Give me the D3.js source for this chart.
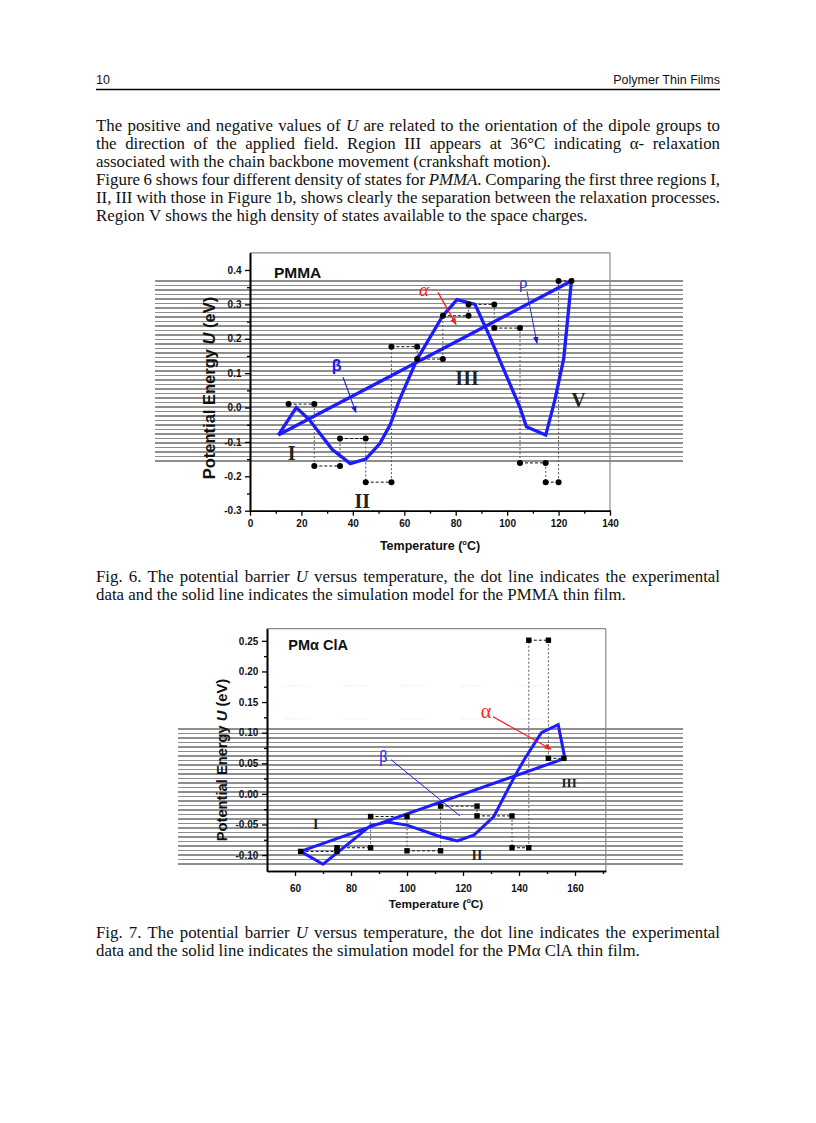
<!DOCTYPE html>
<html><head><meta charset="utf-8">
<script src="https://cdn.jsdelivr.net/npm/d3@7"></script>
<style>
html,body{margin:0;padding:0;background:#fff;}
svg{display:block;}
</style></head>
<body>
<svg id="page" width="816" height="1123"></svg>
<script>
// ---------------- text content ----------------
const headerLeft = "10";
const headerRight = "Polymer Thin Films";
const bodyLines = [
  "The positive and negative values of *U* are related to the orientation of the dipole groups to",
  "the direction of the applied field. Region III appears at 36°C indicating α- relaxation",
  "associated with the chain backbone movement (crankshaft motion).",
  "Figure 6 shows four different density of states for *PMMA*. Comparing the first three regions I,",
  "II, III with those in Figure 1b, shows clearly the separation between the relaxation processes.",
  "Region V shows the high density of states available to the space charges."
];
const bodyJustify = [true, true, false, true, true, false];
const caption6 = [
  "Fig. 6. The potential barrier *U* versus temperature, the dot line indicates the experimental",
  "data and the solid line indicates the simulation model for the PMMA thin film."
];
const caption7 = [
  "Fig. 7. The potential barrier *U* versus temperature, the dot line indicates the experimental",
  "data and the solid line indicates the simulation model for the PMα ClA thin film."
];

// ---------------- Fig. 6 data (PMMA) ----------------
const xTicks1 = [0, 20, 40, 60, 80, 100, 120, 140];
const xMinor1 = [10, 30, 50, 70, 90, 110, 130];
const yTicks1 = [-0.3, -0.2, -0.1, 0.0, 0.1, 0.2, 0.3, 0.4];
const yMinor1 = [-0.25, -0.15, -0.05, 0.05, 0.15, 0.25, 0.35];
const expT1 = [15, 25, 25, 35, 35, 45, 45, 55, 55, 65, 65, 75, 75, 85, 85, 95, 95, 105, 105, 115, 115, 120, 120, 125];
const expU1 = [0.01, 0.01, -0.17, -0.17, -0.09, -0.09, -0.217, -0.217, 0.177, 0.177, 0.141, 0.141, 0.267, 0.267, 0.30, 0.30, 0.231, 0.231, -0.161, -0.161, -0.217, -0.217, 0.368, 0.368];
const simT1 = [11, 18, 23, 32, 39, 45, 50.5, 54.5, 58, 65, 75, 80.5, 87.5, 93, 105, 107.5, 115, 118.5, 122, 125, 11];
const simU1 = [-0.08, 0.0, -0.035, -0.122, -0.163, -0.15, -0.105, -0.05, 0.02, 0.141, 0.267, 0.314, 0.30, 0.21, 0.0, -0.056, -0.08, 0.02, 0.142, 0.368, -0.08];

// ---------------- Fig. 7 data (PMαClA) ----------------
const xTicks2 = [60, 80, 100, 120, 140, 160];
const xMinor2 = [70, 90, 110, 130, 150, 170];
const yTicks2 = [-0.10, -0.05, 0.00, 0.05, 0.10, 0.15, 0.20, 0.25];
const yMinor2 = [-0.075, -0.025, 0.025, 0.075, 0.125, 0.175, 0.225];
const expT2 = [62, 75, 75, 87, 87, 100, 100, 112, 112, 125, 125, 137.5, 137.5, 143.5, 143.5, 150.5, 150.5, 156];
const expU2 = [-0.094, -0.094, -0.088, -0.088, -0.037, -0.037, -0.093, -0.093, -0.02, -0.02, -0.036, -0.036, -0.088, -0.088, 0.251, 0.251, 0.058, 0.058];
const simT2 = [62, 70, 80, 87, 93, 100, 112, 118, 124, 131, 138.5, 142, 148, 154, 156.4, 62];
const simU2 = [-0.094, -0.115, -0.078, -0.052, -0.046, -0.051, -0.07, -0.077, -0.067, -0.037, 0.029, 0.057, 0.1, 0.113, 0.058, -0.094];

// ---------------- page ----------------
const svg = d3.select("#page");
svg.append("rect").attr("width", 816).attr("height", 1123).attr("fill", "#fff");
const SERIF = "'Liberation Serif','Times New Roman',serif";
const SANS = "'Liberation Sans',Arial,Helvetica,sans-serif";

// header
svg.append("text").attr("x", 96).attr("y", 84).attr("font-family", SANS).attr("font-size", 12.5).attr("fill", "#111").text(headerLeft);
svg.append("text").attr("x", 720).attr("y", 84).attr("text-anchor", "end").attr("font-family", SANS).attr("font-size", 12.5).attr("fill", "#111").text(headerRight);
svg.append("line").attr("x1", 96).attr("x2", 720).attr("y1", 89.5).attr("y2", 89.5).attr("stroke", "#000").attr("stroke-width", 1.3);

// text layout helper
const measureG = svg.append("g").attr("opacity", 0);
function natWidth(str, fs) {
  const t = measureG.append("text").attr("font-family", SERIF).attr("font-size", fs).style("white-space", "pre");
  str.split("*").forEach((p, i) => { if (p) t.append("tspan").attr("font-style", i % 2 ? "italic" : "normal").text(p); });
  const w = t.node().getComputedTextLength();
  t.remove();
  return w;
}
const FS = 10 * 455 / natWidth(bodyLines[2].replace(/\*/g, ""), 10);
const SPACE = natWidth("a a", FS) - natWidth("aa", FS);

function layoutLine(str, x0, y, width, justify) {
  const words = str.split(" ");
  const g = svg.append("g");
  const nodes = words.map(w => {
    const t = g.append("text").attr("y", y).attr("font-family", SERIF).attr("font-size", FS).attr("fill", "#111");
    w.split("*").forEach((p, i) => { if (p) t.append("tspan").attr("font-style", i % 2 ? "italic" : "normal").text(p); });
    return t;
  });
  const widths = nodes.map(n => n.node().getComputedTextLength());
  const total = d3.sum(widths);
  const sp = justify ? (width - total) / (words.length - 1) : SPACE;
  let x = x0;
  nodes.forEach((n, i) => { n.attr("x", x); x += widths[i] + sp; });
}
bodyLines.forEach((l, i) => layoutLine(l, 96, 131 + i * 18, 624, bodyJustify[i]));
caption6.forEach((l, i) => layoutLine(l, 96, 582 + i * 17.5, 624, i === 0));
caption7.forEach((l, i) => layoutLine(l, 96, 938 + i * 17.5, 624, i === 0));

// arrow markers
const defs = svg.append("defs");
[["arRed", "#ff1a1a"], ["arBlue", "#1a1aee"]].forEach(([id, c]) => {
  defs.append("marker").attr("id", id).attr("viewBox", "0 0 10 10").attr("refX", 9).attr("refY", 5)
    .attr("markerWidth", 7).attr("markerHeight", 7).attr("markerUnits", "userSpaceOnUse").attr("orient", "auto")
    .append("path").attr("d", "M0,1 L10,5 L0,9 Z").attr("fill", c);
});

function drawChart(cfg) {
  const g = svg.append("g");
  const x = d3.scaleLinear().domain(cfg.xDomain).range(cfg.xRange);
  const y = d3.scaleLinear().domain(cfg.yDomain).range(cfg.yRange);
  const [x0, x1] = cfg.xRange, [yb, yt] = cfg.yRange;

  // scan stripes (decoration)
  const stripes = d3.range(cfg.stripeY[0], cfg.stripeY[1], 4.5);
  g.append("g").selectAll("line").data(stripes).join("line")
    .attr("x1", cfg.stripeX[0]).attr("x2", cfg.stripeX[1])
    .attr("y1", d => d).attr("y2", d => d)
    .attr("stroke", (d, i) => i % 2 ? "#8c8c8c" : "#1e1e1e").attr("stroke-width", 1);

  // faint ghost lines
  (cfg.ghost || []).forEach(gy => {
    g.append("line").attr("x1", x0 + 18).attr("x2", x1 - 40).attr("y1", gy).attr("y2", gy)
      .attr("stroke", "#d9ecdc").attr("stroke-width", 1).attr("stroke-dasharray", "1,1.5,1,1.5,1,1.5,1,1.5,1,1.5,1,1.5,1,1.5,1,1.5,1,1.5,1,35");
  });

  // frame
  g.append("line").attr("x1", x0).attr("x2", x1).attr("y1", yt).attr("y2", yt).attr("stroke", "#8a8a8a").attr("stroke-width", 1.2);
  g.append("line").attr("x1", x1).attr("x2", x1).attr("y1", yt).attr("y2", yb).attr("stroke", "#8a8a8a").attr("stroke-width", 1.2);

  // axes
  const fmt = d => d.toFixed(cfg.yDec);
  const ya = g.append("g").attr("transform", `translate(${x0},0)`)
    .call(d3.axisLeft(y).tickValues(cfg.yTicks).tickSize(5).tickPadding(cfg.yPad).tickSizeOuter(0).tickFormat(fmt));
  const yam = g.append("g").attr("transform", `translate(${x0},0)`)
    .call(d3.axisLeft(y).tickValues(cfg.yMinor).tickSize(3).tickSizeOuter(0).tickFormat(""));
  const xa = g.append("g").attr("transform", `translate(0,${yb})`)
    .call(d3.axisBottom(x).tickValues(cfg.xTicks).tickSize(5).tickPadding(cfg.xPad).tickSizeOuter(0).tickFormat(d3.format("d")));
  const xam = g.append("g").attr("transform", `translate(0,${yb})`)
    .call(d3.axisBottom(x).tickValues(cfg.xMinor).tickSize(3).tickSizeOuter(0).tickFormat(""));
  [ya, yam, xa, xam].forEach(a => {
    a.select(".domain").attr("stroke", "#000").attr("stroke-width", 1.6);
    a.selectAll(".tick line").attr("stroke", "#000").attr("stroke-width", 1.3);
    a.selectAll("text").attr("font-family", SANS).attr("font-weight", "bold").attr("font-size", 10).attr("fill", "#111");
  });

  // axis titles
  const yt1 = g.append("text").attr("transform", `translate(${cfg.yTitle[0]},${cfg.yTitle[1]}) rotate(-90)`)
    .attr("text-anchor", "middle").attr("font-family", SANS).attr("font-weight", "bold").attr("font-size", cfg.yTitleFs).attr("fill", "#111");
  yt1.append("tspan").text("Potential Energy ");
  yt1.append("tspan").attr("font-style", "italic").text("U");
  yt1.append("tspan").text(" (eV)");
  const xt = g.append("text").attr("x", cfg.xTitle[0]).attr("y", cfg.xTitle[1]).attr("text-anchor", "middle")
    .attr("font-family", SANS).attr("font-weight", "bold").attr("font-size", cfg.xTitleFs).attr("fill", "#111");
  xt.append("tspan").text("Temperature (");
  xt.append("tspan").attr("font-size", cfg.xTitleFs * 0.6).attr("dy", -cfg.xTitleFs * 0.4).text("o");
  xt.append("tspan").attr("dy", cfg.xTitleFs * 0.4).text("C)");

  // experimental data: step line
  const pts = cfg.expT.map((t, i) => [t, cfg.expU[i]]);
  const segs = d3.pairs(pts);
  g.append("g").selectAll("line").data(segs).join("line")
    .attr("x1", d => x(d[0][0])).attr("y1", d => y(d[0][1]))
    .attr("x2", d => x(d[1][0])).attr("y2", d => y(d[1][1]))
    .attr("stroke", d => d[0][1] === d[1][1] ? "#111" : "#555")
    .attr("stroke-width", 1)
    .attr("stroke-dasharray", d => d[0][1] === d[1][1] ? "3,2" : "2,2");

  // simulation line
  const sim = cfg.simT.map((t, i) => [t, cfg.simU[i]]);
  g.append("path").datum(sim)
    .attr("d", d3.line().x(d => x(d[0])).y(d => y(d[1])))
    .attr("fill", "none").attr("stroke", "#1c1cff").attr("stroke-width", cfg.simW).attr("stroke-linejoin", "miter");

  // markers
  if (cfg.marker === "circle") {
    g.append("g").selectAll("circle").data(pts).join("circle")
      .attr("cx", d => x(d[0])).attr("cy", d => y(d[1])).attr("r", 3).attr("fill", "#000");
  } else {
    g.append("g").selectAll("rect").data(pts).join("rect")
      .attr("x", d => x(d[0]) - 2.7).attr("y", d => y(d[1]) - 2.7).attr("width", 5.4).attr("height", 5.4).attr("fill", "#000");
  }

  return { g, x, y };
}

// ---------- Fig 6 ----------
const c1 = drawChart({
  xDomain: [0, 140], xRange: [250, 610],
  yDomain: [-0.3, 0.45], yRange: [510.7, 252.8],
  xTicks: xTicks1, xMinor: xMinor1, yTicks: yTicks1, yMinor: yMinor1, yDec: 1,
  yPad: 3.5, xPad: 4.3,
  stripeY: [281, 463], stripeX: [155, 683],
  yTitle: [215, 388], yTitleFs: 16.5, xTitle: [430, 550], xTitleFs: 12.5,
  expT: expT1, expU: expU1, simT: simT1, simU: simU1, simW: 3.3, marker: "circle"
});
{
  const { g, x, y } = c1;
  g.append("text").attr("x", x(9.3)).attr("y", y(0.378)).attr("font-family", SANS).attr("font-weight", "bold").attr("font-size", 15.5).attr("fill", "#111").text("PMMA");
  g.append("text").attr("x", x(67.7)).attr("y", y(0.324)).attr("text-anchor", "middle").attr("font-family", SERIF).attr("font-style", "italic").attr("font-size", 19).attr("fill", "#ff1a1a").text("α");
  g.append("line").attr("x1", x(73.1)).attr("y1", y(0.335)).attr("x2", x(80.1)).attr("y2", y(0.242)).attr("stroke", "#ff1a1a").attr("stroke-width", 1.3).attr("marker-end", "url(#arRed)");
  g.append("text").attr("x", x(106.3)).attr("y", y(0.349)).attr("text-anchor", "middle").attr("font-family", SERIF).attr("font-size", 17).attr("fill", "#2a2ad0").text("ρ");
  g.append("line").attr("x1", x(107.7)).attr("y1", y(0.338)).attr("x2", x(111.6)).attr("y2", y(0.187)).attr("stroke", "#2a2ad0").attr("stroke-width", 1).attr("marker-end", "url(#arBlue)");
  g.append("text").attr("x", x(33.7)).attr("y", y(0.106)).attr("text-anchor", "middle").attr("font-family", SANS).attr("font-weight", "bold").attr("font-size", 16).attr("fill", "#1a1af2").text("β");
  g.append("line").attr("x1", x(36.2)).attr("y1", y(0.088)).attr("x2", x(41.2)).attr("y2", y(-0.014)).attr("stroke", "#1a1af2").attr("stroke-width", 1.1).attr("marker-end", "url(#arBlue)");
  [["III", 84.4, 0.0654], ["V", 127.7, 0.002], ["I", 16.2, -0.153], ["II", 43.7, -0.291]].forEach(([t, a, b]) => {
    g.append("text").attr("x", x(a)).attr("y", y(b)).attr("text-anchor", "middle").attr("font-family", SERIF)
      .attr("font-weight", "bold").attr("font-size", 20).attr("fill", "#222").text(t);
  });
}

// ---------- Fig 7 ----------
const c2 = drawChart({
  xDomain: [50, 171], xRange: [267, 605.8],
  yDomain: [-0.126, 0.27], yRange: [871, 628.6],
  xTicks: xTicks2, xMinor: xMinor2, yTicks: yTicks2, yMinor: yMinor2, yDec: 2,
  yPad: 3.7, xPad: 9,
  stripeY: [729, 867], stripeX: [178, 683],
  ghost: [686, 719],
  yTitle: [227, 760], yTitleFs: 14.7, xTitle: [436, 908], xTitleFs: 11.8,
  expT: expT2, expU: expU2, simT: simT2, simU: simU2, simW: 3, marker: "square"
});
{
  const { g, x, y } = c2;
  g.append("text").attr("x", x(57.6)).attr("y", y(0.235)).attr("font-family", SANS).attr("font-weight", "bold").attr("font-size", 14.5).attr("fill", "#111").text("PMα ClA");
  g.append("text").attr("x", x(128.2)).attr("y", y(0.124)).attr("text-anchor", "middle").attr("font-family", SERIF).attr("font-size", 20).attr("fill", "#ff1a1a").text("α");
  g.append("line").attr("x1", x(130.7)).attr("y1", y(0.126)).attr("x2", x(151.4)).attr("y2", y(0.073)).attr("stroke", "#ff1a1a").attr("stroke-width", 1.2).attr("marker-end", "url(#arRed)");
  g.append("text").attr("x", x(91.5)).attr("y", y(0.052)).attr("text-anchor", "middle").attr("font-family", SERIF).attr("font-size", 16).attr("fill", "#1a1af2").text("β");
  g.append("line").attr("x1", x(94.3)).attr("y1", y(0.0558)).attr("x2", x(118.9)).attr("y2", y(-0.036)).attr("stroke", "#1a1af2").attr("stroke-width", 1);
  [["III", 157.9, 0.012, 13], ["I", 67.4, -0.057, 14], ["II", 125, -0.108, 14]].forEach(([t, a, b, fs]) => {
    g.append("text").attr("x", x(a)).attr("y", y(b)).attr("text-anchor", "middle").attr("font-family", SERIF)
      .attr("font-weight", "bold").attr("font-size", fs).attr("fill", "#222").text(t);
  });
}
</script>
</body></html>
